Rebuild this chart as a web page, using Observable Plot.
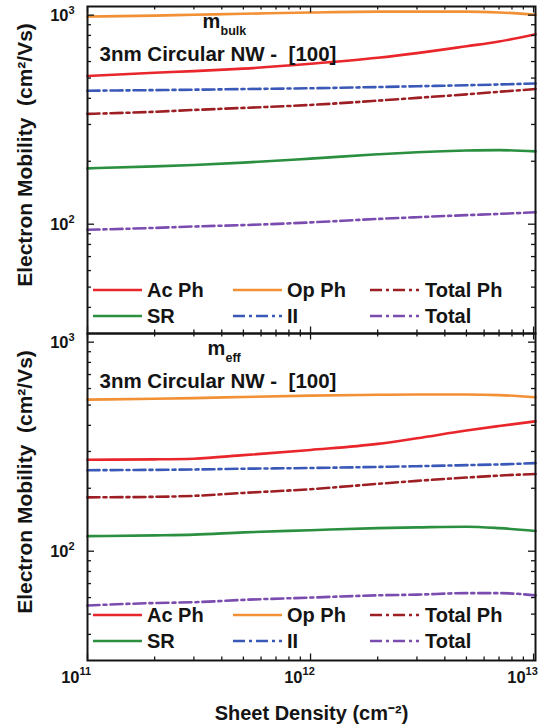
<!DOCTYPE html>
<html><head><meta charset="utf-8">
<script src="https://cdn.jsdelivr.net/npm/d3@7"></script>
<script src="https://cdn.jsdelivr.net/npm/@observablehq/plot@0.6"></script>
<style>
html,body{margin:0;padding:0;background:#fff;}
#chart{position:relative;width:549px;height:725px;}
</style></head><body><div id="chart"></div>
<script>
// ---- data ----
const densities = [1e11, 2e11, 3e11, 5e11, 1e12, 2e12, 3e12, 5e12, 7e12, 1.02e13];
const seriesNames = ["Ac Ph", "Op Ph", "Total Ph", "SR", "II", "Total"];
const seriesColors = ["#e8262b", "#f29035", "#9e1f23", "#2a9040", "#3a58b8", "#7b4cb0"];
const seriesDashed = [false, false, true, false, true, true];
const panels = ["bulk", "eff"];
const panelTitle = "3nm Circular NW - \u00a0[100]";
// m_bulk panel
const bulkAcPh    = [512, 530, 540, 555, 585, 625, 658, 710, 748, 810];
const bulkOpPh    = [985, 995, 1005, 1015, 1030, 1040, 1040, 1040, 1030, 1005];
const bulkTotalPh = [337, 345, 352, 360, 372, 390, 402, 418, 430, 443];
const bulkSR      = [185, 189, 192, 197, 206, 216, 221, 225, 226, 223];
const bulkII      = [435, 438, 440, 443, 447, 453, 457, 462, 466, 471];
const bulkTotal   = [94, 96, 97.5, 99, 102, 106, 108, 110.5, 112, 114];
// m_eff panel
const effAcPh     = [274, 275, 277, 288, 305, 326, 347, 378, 397, 418];
const effOpPh     = [531, 536, 540, 547, 555, 560, 562, 562, 558, 545];
const effTotalPh  = [181, 182, 184, 190, 198, 210, 217, 225, 230, 234];
const effSR       = [118, 119, 120, 123, 126, 129, 130, 131, 129, 125];
const effII       = [244, 245, 246, 248, 250, 253, 255, 258, 260, 264];
const effTotal    = [55, 56.5, 57, 58.5, 60, 61.5, 62, 63, 63, 61.5];
// ticks
const yTicks = [100, 1000];
const yTickExp = ["2", "3"];
const yMinor = [40, 50, 60, 70, 80, 90, 200, 300, 400, 500, 600, 700, 800, 900];
const xTicks = [1e11, 1e12, 1e13];
const xTickExp = ["11", "12", "13"];
const xMinor = [2e11, 3e11, 4e11, 5e11, 6e11, 7e11, 8e11, 9e11, 2e12, 3e12, 4e12, 5e12, 6e12, 7e12, 8e12, 9e12];
const xTitle = "Sheet Density (cm\u207b\u00b2)";
const yTitle = "Electron Mobility \u00a0(cm\u00b2/Vs)";

const values = {
  bulk: [bulkAcPh, bulkOpPh, bulkTotalPh, bulkSR, bulkII, bulkTotal],
  eff: [effAcPh, effOpPh, effTotalPh, effSR, effII, effTotal]
};

// ---- layout ----
const W = 549, H = 725, mL = 87, mR = 14, mT = 5, mB = 65;
const frameW = W - mL - mR;
const panelH = (H - mT - mB) / 2;
const font = "'Liberation Sans', Arial, Helvetica, sans-serif";
const ink = "#141414";
const bold = {fontWeight: "bold", fill: ink, lineAnchor: "middle"};

const lineMarks = [];
panels.forEach(p => {
  seriesNames.forEach((name, i) => {
    const rows = densities.map((x, j) => ({x, y: values[p][i][j], panel: p}));
    lineMarks.push(Plot.line(rows, {
      x: "x", y: "y", fy: "panel",
      stroke: seriesColors[i], strokeWidth: 2.6,
      strokeDasharray: seriesDashed[i] ? "12,4,3,4" : null,
      curve: "monotone-x"
    }));
  });
});

const tickStyle = {stroke: ink, strokeWidth: 1.3};
const plot = Plot.plot({
  width: W, height: H,
  marginLeft: mL, marginRight: mR, marginTop: mT, marginBottom: mB,
  x: {type: "log", domain: [1e11, 1.02e13], axis: null},
  y: {type: "log", domain: [30, 1100], axis: null},
  fy: {domain: panels, padding: 0, axis: null},
  style: {fontFamily: font, background: "#fff", color: ink, overflow: "visible"},
  marks: [
    ...lineMarks,
    // inward ticks, all four sides
    Plot.tickY(yMinor, {y: d => d, insetRight: frameW - 4, ...tickStyle}),
    Plot.tickY(yTicks, {y: d => d, insetRight: frameW - 7, ...tickStyle}),
    Plot.tickY(yMinor, {y: d => d, insetLeft: frameW - 4, ...tickStyle}),
    Plot.tickY(yTicks, {y: d => d, insetLeft: frameW - 7, ...tickStyle}),
    Plot.tickX(xMinor, {x: d => d, insetBottom: panelH - 4, ...tickStyle}),
    Plot.tickX(xTicks, {x: d => d, insetBottom: panelH - 7, ...tickStyle}),
    Plot.tickX(xMinor, {x: d => d, insetTop: panelH - 4, ...tickStyle}),
    Plot.tickX(xTicks, {x: d => d, insetTop: panelH - 7, ...tickStyle}),
    Plot.frame({stroke: ink, strokeWidth: 2}),
    // y tick labels: base + raised exponent
    Plot.text(yTicks, {y: d => d, text: () => "10", frameAnchor: "left",
      dx: -19, dy: 1, textAnchor: "end", fontSize: 16.5, ...bold}),
    Plot.text(yTicks, {y: d => d, text: (d, i) => yTickExp[i], frameAnchor: "left",
      dx: -19, dy: -5, textAnchor: "start", fontSize: 11, ...bold}),
    // y titles
    Plot.text(panels, {fy: d => d, text: () => yTitle, frameAnchor: "left", rotate: -90,
      dx: -62, dy: -15, textAnchor: "middle", fontSize: 21, ...bold}),
    // panel annotations
    Plot.text(panels, {fy: d => d, text: () => panelTitle, frameAnchor: "top-left",
      dx: 12, dy: 48, textAnchor: "start", fontSize: 20.5, ...bold}),
    Plot.text(["bulk"], {fy: d => d, text: () => "m", frameAnchor: "top-left",
      dx: 115, dy: 15, textAnchor: "start", fontSize: 20, ...bold}),
    Plot.text(["bulk"], {fy: d => d, text: d => d, frameAnchor: "top-left",
      dx: 133, dy: 24, textAnchor: "start", fontSize: 12.5, ...bold}),
    Plot.text(["eff"], {fy: d => d, text: () => "m", frameAnchor: "top-left",
      dx: 120, dy: 15, textAnchor: "start", fontSize: 20, ...bold}),
    Plot.text(["eff"], {fy: d => d, text: d => d, frameAnchor: "top-left",
      dx: 138, dy: 24, textAnchor: "start", fontSize: 12.5, ...bold}),
    // x tick labels (base + raised exponent) and title, bottom panel only
    Plot.text(xTicks, {x: d => d, fy: () => "eff", text: () => "10",
      frameAnchor: "bottom", dy: 17, dx: -8, textAnchor: "end", fontSize: 16.5, ...bold}),
    Plot.text(xTicks, {x: d => d, fy: () => "eff", text: (d, i) => xTickExp[i],
      frameAnchor: "bottom", dy: 11, dx: -8, textAnchor: "start", fontSize: 11, ...bold}),
    Plot.text([xTitle], {fy: () => "eff", text: d => d, frameAnchor: "bottom",
      dy: 53, textAnchor: "middle", fontSize: 20, ...bold})
  ]
});
document.getElementById("chart").append(plot);

// ---- in-panel legends ----
const svg = d3.select(plot.tagName.toLowerCase() === "svg" ? plot : plot.querySelector("svg"));
let fyScale = null;
try { fyScale = plot.scale("fy"); } catch (e) {}
const legendRows = {bulk: [284, 310], eff: [282, 308]};
const colLine = [6, 146, 283];
const colText = [60, 200, 338];
const lineLen = 49;
panels.forEach((p, pi) => {
  const top = fyScale && fyScale.apply ? fyScale.apply(p) : mT + pi * panelH;
  const g = svg.append("g").attr("transform", `translate(${mL},${top})`)
    .attr("font-family", font).attr("font-weight", "bold").attr("font-size", 20)
    .attr("fill", ink).attr("text-anchor", "start");
  seriesNames.forEach((name, i) => {
    const row = Math.floor(i / 3), col = i % 3;
    const y = legendRows[p][row];
    g.append("line").attr("x1", colLine[col]).attr("x2", colLine[col] + lineLen)
      .attr("y1", y).attr("y2", y)
      .attr("stroke", seriesColors[i]).attr("stroke-width", 2.6)
      .attr("stroke-dasharray", seriesDashed[i] ? "12,4,3,4" : null);
    g.append("text").attr("x", colText[col]).attr("y", y).attr("dy", "0.36em")
      .attr("text-anchor", "start").text(name);
  });
});
</script></body></html>
